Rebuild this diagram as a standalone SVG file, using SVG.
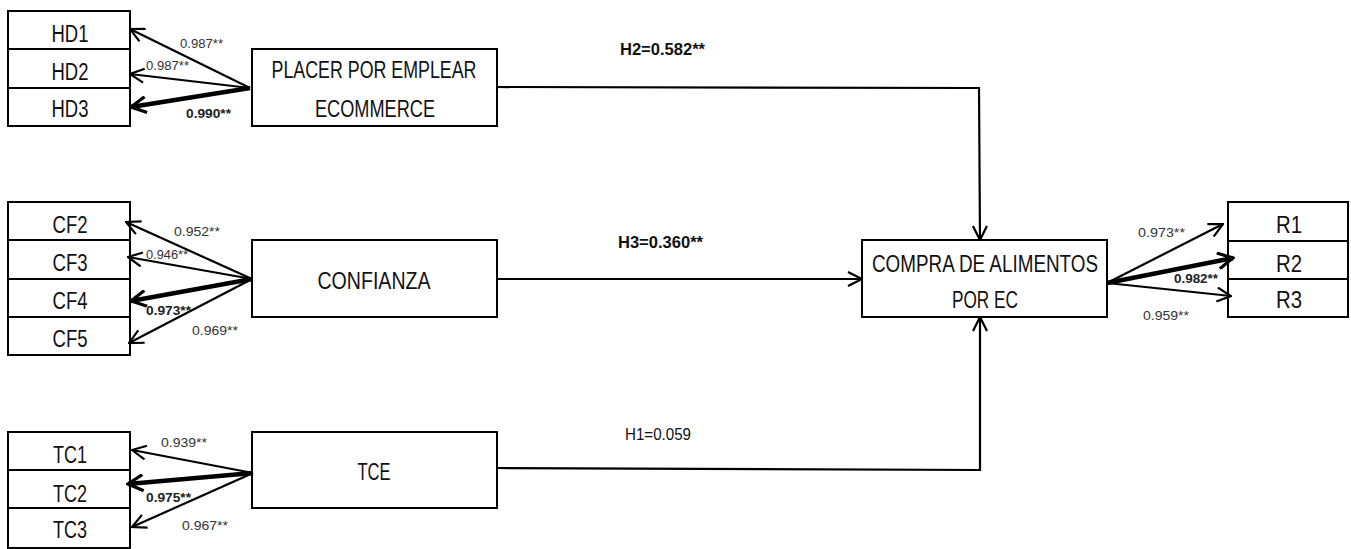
<svg xmlns="http://www.w3.org/2000/svg" width="1351" height="549" viewBox="0 0 1351 549">
<style>
.box{fill:#fff;stroke:#000;stroke-width:2}
.lbl{font-family:"Liberation Sans Narrow","Liberation Sans",Arial,sans-serif;font-size:23px;fill:#111;text-anchor:middle}
.num{font-family:"Liberation Sans Narrow","Liberation Sans",Arial,sans-serif;font-size:13px;fill:#333}
.b{font-weight:bold;fill:#222}
.h{font-family:"Liberation Sans Narrow","Liberation Sans",Arial,sans-serif;font-size:16px;fill:#111}
.ln{fill:none;stroke:#000;stroke-width:2.2}
.thk{stroke-width:4.5}
</style>
<defs>
<marker id="a" viewBox="0 0 16 16" refX="15" refY="8" markerWidth="16" markerHeight="16" markerUnits="userSpaceOnUse" orient="auto">
<path d="M1,1 L15,8 L1,15" fill="none" stroke="#000" stroke-width="2.2"/>
</marker>
<marker id="at" viewBox="0 0 18 18" refX="16" refY="9" markerWidth="18" markerHeight="18" markerUnits="userSpaceOnUse" orient="auto">
<path d="M1,1 L16,9 L1,17" fill="none" stroke="#000" stroke-width="3.2"/>
</marker>
</defs>
<rect width="1351" height="549" fill="#fff"/>

<g id="HD1"><rect class="box" x="8" y="11" width="122" height="38"/><text class="lbl" x="70" y="42" textLength="37" lengthAdjust="spacingAndGlyphs">HD1</text></g>
<g id="HD2"><rect class="box" x="8" y="49" width="122" height="39"/><text class="lbl" x="70" y="80" textLength="37" lengthAdjust="spacingAndGlyphs">HD2</text></g>
<g id="HD3"><rect class="box" x="8" y="88" width="122" height="38"/><text class="lbl" x="70" y="117" textLength="37" lengthAdjust="spacingAndGlyphs">HD3</text></g>
<g id="PLACER"><rect class="box" x="252" y="49" width="245" height="77"/><text class="lbl" x="374" y="78" textLength="205" lengthAdjust="spacingAndGlyphs">PLACER POR EMPLEAR</text><text class="lbl" x="375" y="117" textLength="120" lengthAdjust="spacingAndGlyphs">ECOMMERCE</text></g>

<g id="CF2"><rect class="box" x="8" y="202" width="122" height="38"/><text class="lbl" x="70" y="233" textLength="35" lengthAdjust="spacingAndGlyphs">CF2</text></g>
<g id="CF3"><rect class="box" x="8" y="240" width="122" height="39"/><text class="lbl" x="70" y="271" textLength="35" lengthAdjust="spacingAndGlyphs">CF3</text></g>
<g id="CF4"><rect class="box" x="8" y="279" width="122" height="38"/><text class="lbl" x="70" y="309" textLength="35" lengthAdjust="spacingAndGlyphs">CF4</text></g>
<g id="CF5"><rect class="box" x="8" y="317" width="122" height="38"/><text class="lbl" x="70" y="347" textLength="35" lengthAdjust="spacingAndGlyphs">CF5</text></g>
<g id="CONFIANZA"><rect class="box" x="252" y="240" width="245" height="77"/><text class="lbl" x="374" y="289" textLength="113" lengthAdjust="spacingAndGlyphs">CONFIANZA</text></g>

<g id="TC1"><rect class="box" x="8" y="432" width="122" height="38"/><text class="lbl" x="70" y="463" textLength="34" lengthAdjust="spacingAndGlyphs">TC1</text></g>
<g id="TC2"><rect class="box" x="8" y="470" width="122" height="38"/><text class="lbl" x="70" y="502" textLength="34" lengthAdjust="spacingAndGlyphs">TC2</text></g>
<g id="TC3"><rect class="box" x="8" y="508" width="122" height="40"/><text class="lbl" x="70" y="538" textLength="34" lengthAdjust="spacingAndGlyphs">TC3</text></g>
<g id="TCE"><rect class="box" x="252" y="432" width="245" height="76"/><text class="lbl" x="374" y="480" textLength="33" lengthAdjust="spacingAndGlyphs">TCE</text></g>

<g id="COMPRA"><rect class="box" x="862" y="240" width="245" height="77"/><text class="lbl" x="985" y="272" textLength="226" lengthAdjust="spacingAndGlyphs">COMPRA DE ALIMENTOS</text><text class="lbl" x="985" y="308" textLength="66" lengthAdjust="spacingAndGlyphs">POR EC</text></g>
<g id="R1"><rect class="box" x="1228" y="202" width="120" height="39"/><text class="lbl" x="1289" y="233" textLength="26" lengthAdjust="spacingAndGlyphs">R1</text></g>
<g id="R2"><rect class="box" x="1228" y="241" width="120" height="38"/><text class="lbl" x="1289" y="272" textLength="26" lengthAdjust="spacingAndGlyphs">R2</text></g>
<g id="R3"><rect class="box" x="1228" y="279" width="120" height="38"/><text class="lbl" x="1289" y="308" textLength="26" lengthAdjust="spacingAndGlyphs">R3</text></g>

<g id="connectors">
<line class="ln" x1="250" y1="88" x2="130" y2="29" marker-end="url(#a)"/>
<line class="ln" x1="250" y1="88" x2="130" y2="74" marker-end="url(#a)"/>
<line class="ln thk" x1="250" y1="88" x2="131" y2="107" marker-end="url(#at)"/>

<line class="ln" x1="252" y1="279" x2="126" y2="222" marker-end="url(#a)"/>
<line class="ln" x1="252" y1="279" x2="128" y2="257" marker-end="url(#a)"/>
<line class="ln thk" x1="252" y1="279" x2="131" y2="301" marker-end="url(#at)"/>
<line class="ln" x1="252" y1="279" x2="129" y2="343" marker-end="url(#a)"/>

<line class="ln" x1="253" y1="473" x2="132" y2="450" marker-end="url(#a)"/>
<line class="ln thk" x1="253" y1="473" x2="128" y2="484" marker-end="url(#at)"/>
<line class="ln" x1="253" y1="473" x2="132" y2="527" marker-end="url(#a)"/>

<line class="ln" x1="1107" y1="283" x2="1223" y2="224" marker-end="url(#a)"/>
<line class="ln thk" x1="1107" y1="283" x2="1233" y2="258" marker-end="url(#at)"/>
<line class="ln" x1="1107" y1="283" x2="1231" y2="296" marker-end="url(#a)"/>

<polyline class="ln" points="497,87 979,88 980,240" marker-end="url(#a)"/>
<line class="ln" x1="497" y1="279" x2="862" y2="279" marker-end="url(#a)"/>
<polyline class="ln" points="498,468 980,470 980,317" marker-end="url(#a)"/>
</g>

<g id="labels">
<text class="num" x="180" y="48" textLength="43" lengthAdjust="spacingAndGlyphs">0.987**</text>
<text class="num" x="146" y="70" textLength="43" lengthAdjust="spacingAndGlyphs">0.987**</text>
<text class="num b" x="186" y="118" textLength="45" lengthAdjust="spacingAndGlyphs">0.990**</text>
<text class="num" x="174" y="236" textLength="46" lengthAdjust="spacingAndGlyphs">0.952**</text>
<text class="num" x="146" y="259" textLength="42" lengthAdjust="spacingAndGlyphs">0.946**</text>
<text class="num b" x="146" y="315" textLength="45" lengthAdjust="spacingAndGlyphs">0.973**</text>
<text class="num" x="192" y="335" textLength="46" lengthAdjust="spacingAndGlyphs">0.969**</text>
<text class="num" x="161" y="447" textLength="46" lengthAdjust="spacingAndGlyphs">0.939**</text>
<text class="num b" x="146" y="502" textLength="45" lengthAdjust="spacingAndGlyphs">0.975**</text>
<text class="num" x="182" y="530" textLength="46" lengthAdjust="spacingAndGlyphs">0.967**</text>
<text class="num" x="1138" y="237" textLength="47" lengthAdjust="spacingAndGlyphs">0.973**</text>
<text class="num b" x="1174" y="283" textLength="44" lengthAdjust="spacingAndGlyphs">0.982**</text>
<text class="num" x="1143" y="320" textLength="46" lengthAdjust="spacingAndGlyphs">0.959**</text>
<text class="h b" x="620" y="55" textLength="85" lengthAdjust="spacingAndGlyphs">H2=0.582**</text>
<text class="h b" x="618" y="248" textLength="85" lengthAdjust="spacingAndGlyphs">H3=0.360**</text>
<text class="h" x="625" y="440" textLength="66" lengthAdjust="spacingAndGlyphs">H1=0.059</text>
</g>
</svg>
